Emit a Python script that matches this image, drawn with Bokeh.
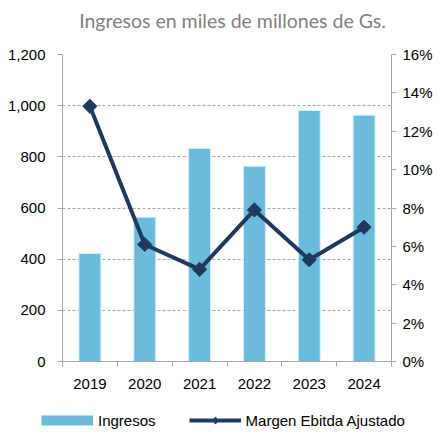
import math
from bokeh.plotting import figure
from bokeh.layouts import column
from bokeh.core.properties import value
from bokeh.models import (Range1d, LinearAxis, FixedTicker, NumeralTickFormatter,
                          PrintfTickFormatter, Legend, LegendItem, Label)
from bokeh.embed import file_html
from bokeh.resources import INLINE

years = ["2019", "2020", "2021", "2022", "2023", "2024"]
ingresos = [422, 564, 833, 763, 981, 963]
margen = [13.3, 6.1, 4.8, 7.9, 5.3, 7.0]
left_ticks = [0, 200, 400, 600, 800, 1000, 1200]
right_ticks = [0, 2, 4, 6, 8, 10, 12, 14, 16]
series_names = ["Ingresos", "Margen Ebitda Ajustado"]
title_text = "Ingresos en miles de millones de Gs."

BAR = "#6BBBDD"
LINE = "#203A5C"
AXIS = "#A6A6A6"
FONT = "Liberation Sans"
W = 435

# title strip
TH = 40
tf = figure(width=W, height=TH, output_backend="svg", toolbar_location=None,
            x_range=Range1d(0, W), y_range=Range1d(0, TH),
            x_axis_location=None, y_axis_location=None,
            min_border=0, outline_line_color=None, frame_align=False)
tf.grid.visible = False
tf.add_layout(Label(x=232, y=TH - 20, text=title_text, text_align="center",
                    text_baseline="middle", text_font="Lato", text_font_size="19.5px",
                    text_color="#7F7F7F"))

x = list(range(len(years)))

H = 400 - TH
p = figure(width=W, height=H, output_backend="svg", toolbar_location=None,
           x_range=Range1d(-0.5, len(years) - 0.5), y_range=Range1d(0, 1200),
           min_border_left=62, min_border_right=W - 393, min_border_top=54 - TH,
           min_border_bottom=400 - 361, frame_align=False)
p.extra_y_ranges = {"pct": Range1d(0, 16)}
p.outline_line_color = None
p.background_fill_color = "white"
p.border_fill_color = "white"

p.vbar(x=x, top=ingresos, width=0.4, fill_color=BAR, line_color="#D6ECF6", line_width=1)
p.line(x=x, y=margen, y_range_name="pct", line_color=LINE, line_width=4)
p.scatter(x=x, y=margen, y_range_name="pct", marker="square", angle=math.pi / 4,
          size=10, fill_color=LINE, line_color=LINE)

# x axis
xa = p.xaxis[0]
xa.ticker = FixedTicker(ticks=x, minor_ticks=[i - 0.5 for i in range(len(years) + 1)])
xa.major_label_overrides = {i: y for i, y in zip(x, years)}
xa.major_tick_line_color = None
xa.major_tick_out = 0
xa.major_tick_in = 0
xa.minor_tick_in = 0
xa.minor_tick_out = 5
xa.minor_tick_line_color = AXIS
xa.axis_line_color = AXIS
xa.major_label_text_font = FONT
xa.major_label_text_font_size = "15px"
xa.major_label_text_color = "black"
xa.major_label_standoff = 12

# left axis
ya = p.yaxis[0]
ya.ticker = FixedTicker(ticks=left_ticks)
ya.formatter = NumeralTickFormatter(format="0,0")
ya.axis_line_color = AXIS
ya.major_tick_line_color = AXIS
ya.major_tick_in = 0
ya.major_tick_out = 5
ya.minor_tick_line_color = None
ya.major_label_text_font = FONT
ya.major_label_text_font_size = "15px"
ya.major_label_text_color = "black"
ya.major_label_standoff = 12

# right axis
ra = LinearAxis(y_range_name="pct", ticker=FixedTicker(ticks=right_ticks),
                formatter=PrintfTickFormatter(format="%d%%"))
ra.axis_line_color = AXIS
ra.major_tick_line_color = AXIS
ra.major_tick_in = 0
ra.major_tick_out = 5
ra.minor_tick_line_color = None
ra.major_label_text_font = FONT
ra.major_label_text_font_size = "15px"
ra.major_label_text_color = "black"
ra.major_label_standoff = 6
p.add_layout(ra, "right")

p.xgrid.grid_line_color = None
p.ygrid.ticker = FixedTicker(ticks=left_ticks)
p.ygrid.grid_line_color = AXIS
p.ygrid.grid_line_dash = "3 2"

# legend strip
LH = 32
lg = figure(width=W, height=LH, output_backend="svg", toolbar_location=None,
            x_range=Range1d(0, 1), y_range=Range1d(0, 1),
            x_axis_location=None, y_axis_location=None,
            min_border=0, outline_line_color=None, frame_align=False)
lg.grid.visible = False
sw = lg.line(x=[5, 6], y=[5, 5], line_color=BAR, line_width=10)
l2 = lg.line(x=[5, 6], y=[5, 5], line_color=LINE, line_width=4)
m2 = lg.scatter(x=[5, 6], y=[5, 5], marker="diamond", size=14,
                fill_color=LINE, line_color=LINE)
leg = Legend(items=[LegendItem(label=series_names[0], renderers=[sw]),
                    LegendItem(label=series_names[1], renderers=[l2, m2])],
             location=(41, LH - 20 - 9), orientation="horizontal", glyph_width=52,
             glyph_height=18, label_standoff=5, padding=0, margin=0, spacing=33,
             border_line_color=None, background_fill_alpha=0,
             label_text_font=FONT, label_text_font_size="15px",
             label_text_color="black", label_height=18)
lg.add_layout(leg, "center")

open("out.html", "w").write(file_html(column(tf, p, lg, spacing=0), INLINE))
